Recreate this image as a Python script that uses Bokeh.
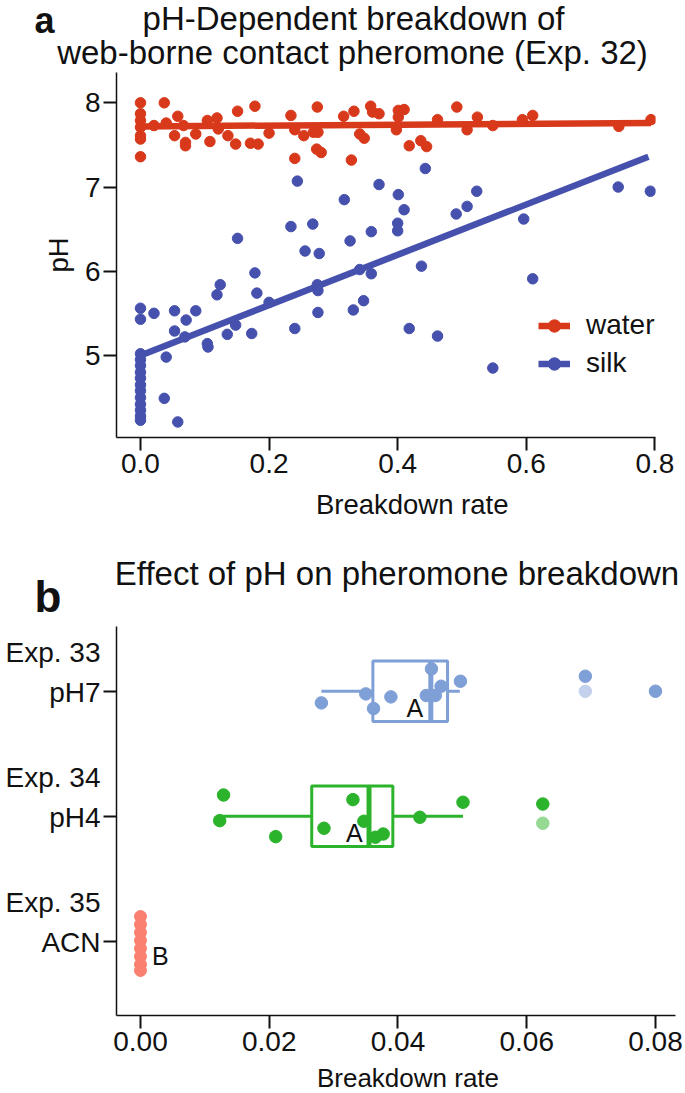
from bokeh.plotting import figure
from bokeh.models import (Range1d, FixedTicker, PrintfTickFormatter, LinearAxis,
                          Legend, LegendItem)
from bokeh.layouts import column, row
from bokeh.embed import file_html
from bokeh.resources import INLINE
from bokeh.core.properties import value

FONT = "Liberation Sans"
INK = "#111111"
W = 684

# ---------------- Panel a data ----------------
water_rate = [0, 0, 0, 0, 0, 0, 0, 0.021, 0.037, 0.040, 0.058, 0.053, 0.067, 0.070, 0.070,
              0.086, 0.104, 0.108, 0.119, 0.121, 0.136, 0.148, 0.151, 0.171, 0.178, 0.183,
              0.200, 0.234, 0.240, 0.240, 0.254, 0.269, 0.275, 0.276, 0.274, 0.281, 0.316,
              0.332, 0.328, 0.341, 0.348, 0.358, 0.361, 0.371, 0.398, 0.401, 0.410, 0.401,
              0.418, 0.436, 0.445, 0.462, 0.492, 0.508, 0.524, 0.548, 0.594, 0.610, 0.744,
              0.794]
water_ph = [8.00, 7.87, 7.79, 7.71, 7.61, 7.57, 7.36, 7.73, 8.00, 7.76, 7.84, 7.61, 7.73, 7.53,
            7.49, 7.63, 7.79, 7.54, 7.82, 7.69, 7.61, 7.51, 7.90, 7.52, 7.96, 7.51, 7.64, 7.85,
            7.68, 7.34, 7.61, 7.65, 7.95, 7.65, 7.45, 7.41, 7.84, 7.90, 7.32, 7.63, 7.58, 7.96,
            7.89, 7.87, 7.68, 7.91, 7.92, 7.83, 7.49, 7.55, 7.48, 7.80, 7.95, 7.68, 7.83, 7.73,
            7.80, 7.85, 7.72, 7.80]
silk_rate = [0, 0, 0, 0, 0, 0, 0, 0, 0, 0, 0, 0, 0, 0,
             0.021, 0.037, 0.040, 0.053, 0.053, 0.058, 0.069, 0.071, 0.086, 0.104, 0.105,
             0.119, 0.124, 0.135, 0.148, 0.151, 0.173, 0.178, 0.181, 0.200, 0.240, 0.234,
             0.244, 0.256, 0.268, 0.275, 0.276, 0.278, 0.276, 0.317, 0.326, 0.331, 0.347,
             0.341, 0.359, 0.359, 0.371, 0.400, 0.400, 0.401, 0.410, 0.418, 0.437, 0.443,
             0.462, 0.491, 0.508, 0.523, 0.548, 0.596, 0.610, 0.743, 0.793]
silk_ph = [5.56, 5.43, 5.02, 4.95, 4.88, 4.80, 4.73, 4.65, 4.58, 4.50, 4.42, 4.35, 4.28, 4.23,
           5.50, 4.49, 4.98, 5.53, 5.29, 4.21, 5.22, 5.42, 5.53, 5.14, 5.10,
           5.72, 5.84, 5.25, 5.36, 6.39, 5.26, 5.98, 5.74, 5.63, 5.32, 6.53,
           7.07, 6.24, 6.56, 5.84, 5.77, 6.21, 5.51, 6.85, 6.36, 5.54, 5.65,
           6.02, 6.47, 5.97, 7.03, 6.48, 6.57, 6.91, 6.73, 5.32, 6.06, 7.22,
           5.23, 6.68, 6.77, 6.95, 4.85, 6.62, 5.91, 7.00, 6.95]
water_fit_rate = [0.0, 0.794]
water_fit_ph = [7.72, 7.76]
silk_fit_rate = [0.0, 0.790]
silk_fit_ph = [5.00, 7.36]
series_names = ["water", "silk"]
xticks_a = [0.0, 0.2, 0.4, 0.6, 0.8]
yticks_a = [5, 6, 7, 8]

# ---------------- Panel b data ----------------
group_labels = ["pH7", "pH4", "ACN"]
group_exps = ["Exp. 33", "Exp. 34", "Exp. 35"]
group_pos = [3, 2, 1]
ph7_rate = [0.0281, 0.0350, 0.0362, 0.0389, 0.0452, 0.0444, 0.0458, 0.0467, 0.0497, 0.0691, 0.0800]
ph7_jit = [-0.093, -0.021, -0.138, -0.045, 0.179, -0.034, -0.034, 0.040, 0.080, 0.120, 0.0]
ph7_out_rate = [0.0691]
ph7_out_jit = [0.0]
ph4_rate = [0.0129, 0.0123, 0.0210, 0.0285, 0.0330, 0.0347, 0.0365, 0.0377, 0.0434, 0.0501, 0.0625]
ph4_jit = [0.170, -0.035, -0.163, -0.096, 0.133, -0.040, -0.168, -0.142, -0.008, 0.112, 0.098]
ph4_out_rate = [0.0625]
ph4_out_jit = [-0.056]
acn_rate = [0, 0, 0, 0, 0, 0, 0, 0]
acn_jit = [0.198, 0.134, 0.070, 0.006, -0.058, -0.122, -0.186, -0.234]
box_q1 = [0.0361, 0.0266]
box_med = [0.0451, 0.0355]
box_q3 = [0.0477, 0.0392]
whisk_lo = [0.0281, 0.0123]
whisk_hi = [0.0496, 0.0501]
box_pos = [3, 2]
sig_letters = ["A", "A", "B"]
sig_rate = [0.0426, 0.0332, 0.0031]
sig_pos = [2.87, 1.866, 0.886]
xticks_b = [0.0, 0.02, 0.04, 0.06, 0.08]

# ---------------- texts ----------------
title_a = ["pH-Dependent breakdown of", "web-borne contact pheromone (Exp. 32)"]
title_b = "Effect of pH on pheromone breakdown"
panel_letters = ["a", "b"]
x_title = "Breakdown rate"
y_title_a = "pH"

C_WATER = "#d8391b"
C_SILK = "#4551ad"
C_PH7 = "#7f9fd7"
C_PH7_OUT = "#c3d1ec"
C_PH4 = "#2cb32c"
C_PH4_OUT = "#95d992"
C_ACN = "#fa8072"


def style_axis(ax, tick_font="28px"):
    ax.axis_line_width = 1.5
    ax.axis_line_color = INK
    ax.major_tick_line_width = 2
    ax.major_tick_line_color = INK
    ax.major_tick_out = 13
    ax.major_tick_in = 0
    ax.minor_tick_line_color = None
    ax.major_label_text_font = FONT
    ax.major_label_text_font_size = tick_font
    ax.major_label_text_color = INK
    ax.axis_label_text_font = FONT
    ax.axis_label_text_font_size = "27.5px"
    ax.axis_label_text_font_style = "normal"
    ax.axis_label_text_color = INK


def clean(p):
    p.outline_line_color = None
    p.xgrid.visible = False
    p.ygrid.visible = False


def strip(height):
    s = figure(width=W, height=height, output_backend="svg", toolbar_location=None,
               x_range=Range1d(0, W), y_range=Range1d(height, 0),
               x_axis_type=None, y_axis_type=None,
               min_border_left=0, min_border_right=0, min_border_top=0,
               min_border_bottom=0)
    s.outline_line_color = None
    return s


def put(s, x, baseline, txt, size_px, align="left", bold=False):
    # text is placed by the middle of its capitals (cap height ~0.716 em)
    s.text(x=[x], y=[baseline - 0.358 * size_px], text=[txt], text_font=value(FONT),
           text_font_size=f"{size_px}px", text_color=INK, text_align=align,
           text_baseline="middle", text_font_style="bold" if bold else "normal")


# ================= header a =================
head = strip(72)
put(head, 34, 33, panel_letters[0], 36, bold=True)
put(head, 353, 30, title_a[0], 33, align="center")
put(head, 352, 64, title_a[1], 33, align="center")

# ================= Panel a =================
pa = figure(width=W, height=416, output_backend="svg", toolbar_location=None,
            x_range=Range1d(-0.0373, 0.801), y_range=Range1d(4.025, 8.36),
            min_border_left=116, min_border_right=W - 655, min_border_top=0,
            min_border_bottom=51)
clean(pa)
style_axis(pa.xaxis[0])
style_axis(pa.yaxis[0])
pa.xaxis.ticker = FixedTicker(ticks=xticks_a)
pa.xaxis.formatter = PrintfTickFormatter(format="%.1f")
pa.yaxis.ticker = FixedTicker(ticks=yticks_a)
pa.xaxis.major_label_standoff = 3
pa.yaxis.major_label_standoff = 3
pa.yaxis.axis_label = y_title_a
pa.yaxis.axis_label_standoff = 8

w_pts = pa.scatter(water_rate, water_ph, size=10.5, color=C_WATER)
s_pts = pa.scatter(silk_rate, silk_ph, size=10.5, color=C_SILK)
w_line = pa.line(water_fit_rate, water_fit_ph, line_width=6.5, color=C_WATER)
s_line = pa.line(silk_fit_rate, silk_fit_ph, line_width=6.5, color=C_SILK)

legend = Legend(items=[LegendItem(label=series_names[0], renderers=[w_line, w_pts]),
                       LegendItem(label=series_names[1], renderers=[s_line, s_pts])],
                location=(422, 58), padding=0, margin=0, spacing=6,
                glyph_width=32, glyph_height=31, label_standoff=16,
                label_text_font=FONT, label_text_font_size="28px",
                label_text_color=INK, border_line_color=None,
                background_fill_alpha=0)
pa.add_layout(legend, "center")

# ================= middle strip =================
mid = strip(138)
put(mid, 411.7, 26, x_title, 27.5, align="center")
put(mid, 34, 124, panel_letters[1], 44, bold=True)
put(mid, 396.5, 97, title_b, 33, align="center")

# ================= Panel b =================
YB = (0.406, 3.518)
pb = figure(width=W, height=437, output_backend="svg", toolbar_location=None,
            x_range=Range1d(-0.003728, 0.08311), y_range=Range1d(*YB),
            min_border_left=116, min_border_right=W - 675, min_border_top=0,
            min_border_bottom=48)
clean(pb)
style_axis(pb.xaxis[0])
style_axis(pb.yaxis[0])
pb.xaxis.ticker = FixedTicker(ticks=xticks_b)
pb.xaxis.formatter = PrintfTickFormatter(format="%.2f")
pb.xaxis.major_label_standoff = 3
pb.yaxis.ticker = FixedTicker(ticks=group_pos)
pb.yaxis.major_label_overrides = {pos: "" for pos in group_pos}
pb.yaxis.major_label_standoff = 0

# two-line category labels, centred so that the second line sits at the tick
LBL_SHIFT = 0.15
pb.extra_y_ranges = {"lbl": Range1d(YB[0] - LBL_SHIFT, YB[1] - LBL_SHIFT)}
lab_axis = LinearAxis(y_range_name="lbl", ticker=FixedTicker(ticks=group_pos))
style_axis(lab_axis)
lab_axis.axis_line_color = None
lab_axis.major_tick_line_color = None
lab_axis.major_tick_out = 0
lab_axis.major_label_standoff = 3
lab_axis.major_label_text_line_height = 1.28
lab_axis.major_label_overrides = {pos: f"{e}\n{g}" for pos, e, g in
                                  zip(group_pos, group_exps, group_labels)}
pb.add_layout(lab_axis, "left")

box_cols = [C_PH7, C_PH4]
HALF = 0.242
pb.segment(x0=whisk_lo, y0=box_pos, x1=box_q1, y1=box_pos, line_width=3, line_color=box_cols)
pb.segment(x0=box_q3, y0=box_pos, x1=whisk_hi, y1=box_pos, line_width=3, line_color=box_cols)
pb.quad(left=box_q1, right=box_q3, bottom=[b - HALF for b in box_pos],
        top=[b + HALF for b in box_pos], fill_alpha=0, line_color=box_cols, line_width=3)
pb.segment(x0=box_med, x1=box_med, y0=[b - HALF for b in box_pos],
           y1=[b + HALF for b in box_pos], line_width=5, line_color=box_cols)

pb.scatter(ph7_out_rate, [group_pos[0] + j for j in ph7_out_jit], size=12.5, color=C_PH7_OUT)
pb.scatter(ph4_out_rate, [group_pos[1] + j for j in ph4_out_jit], size=12.5, color=C_PH4_OUT)
pb.scatter(ph7_rate, [group_pos[0] + j for j in ph7_jit], size=12.5, color=C_PH7)
pb.scatter(ph4_rate, [group_pos[1] + j for j in ph4_jit], size=12.5, color=C_PH4)
pb.scatter(acn_rate, [group_pos[2] + j for j in acn_jit], size=12, color=C_ACN)

pb.text(x=sig_rate, y=sig_pos, text=sig_letters, text_font=value(FONT),
        text_font_size="25px", text_color=INK, text_align="center",
        text_baseline="middle")

# ================= footer =================
foot = strip(29)
put(foot, 407.5, 23.5, x_title, 26, align="center")

layout = column(row(head), row(pa), row(mid), row(pb), row(foot), spacing=0)
open("out.html", "w").write(file_html(layout, INLINE))
